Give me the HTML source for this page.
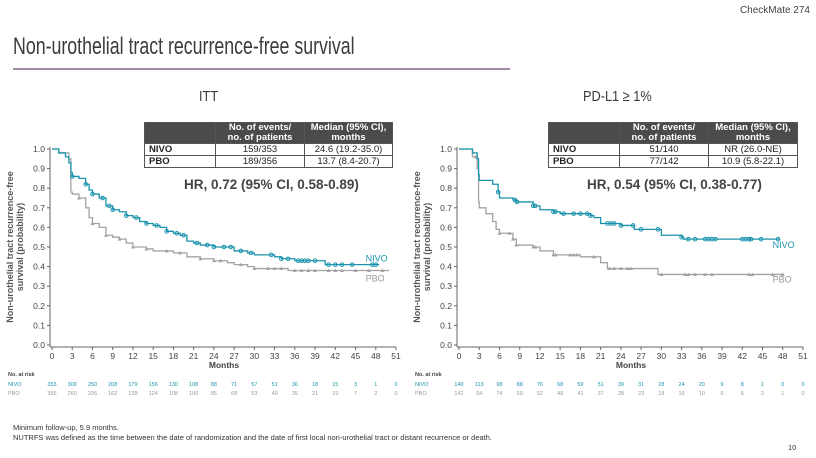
<!DOCTYPE html>
<html><head><meta charset="utf-8"><style>
body{margin:0;width:816px;height:458px;background:#fff;font-family:"Liberation Sans","DejaVu Sans",sans-serif;color:#3a3a3a;overflow:hidden;position:relative}
.abs{position:absolute}
table.t{position:absolute;border-collapse:collapse;font-size:9.5px;color:#222}
table.t td{border:1px solid #555;padding:0 4px;line-height:11px;height:11px}
table.t tr.h td{background:#4b4b4b;color:#fff;font-weight:bold;text-align:center;line-height:10px}
table.t td.c{text-align:center}
</style></head><body>
<div class="abs" style="right:6px;top:5px;font-size:10px;color:#444">CheckMate 274</div>
<div class="abs" style="left:13px;top:33px;font-size:24px;color:#3c3c3c;transform:scaleX(0.74);transform-origin:left top;white-space:nowrap">Non-urothelial tract recurrence-free survival</div>
<div class="abs" style="left:13px;top:68px;width:497px;height:2px;background:#a58aa8"></div>
<div class="abs" style="left:199px;top:88px;font-size:15px;transform:scaleX(0.85);transform-origin:left top">ITT</div>
<div class="abs" style="left:583px;top:88px;font-size:15px;transform:scaleX(0.85);transform-origin:left top;white-space:nowrap">PD-L1 ≥ 1%</div>

<table class="t" style="left:144px;top:122px;width:249px">
<tr class="h"><td style="width:62px"></td><td style="width:80px">No. of events/<br>no. of patients</td><td>Median (95% CI),<br>months</td></tr>
<tr><td><b>NIVO</b></td><td class="c">159/353</td><td class="c">24.6 (19.2-35.0)</td></tr>
<tr><td><b>PBO</b></td><td class="c">189/356</td><td class="c">13.7 (8.4-20.7)</td></tr></table>
<table class="t" style="left:548px;top:122px;width:250px">
<tr class="h"><td style="width:62px"></td><td style="width:80px">No. of events/<br>no. of patients</td><td>Median (95% CI),<br>months</td></tr>
<tr><td><b>NIVO</b></td><td class="c">51/140</td><td class="c">NR (26.0-NE)</td></tr>
<tr><td><b>PBO</b></td><td class="c">77/142</td><td class="c">10.9 (5.8-22.1)</td></tr></table>
<div class="abs" style="left:184px;top:177px;font-size:13.5px;font-weight:bold;color:#444">HR, 0.72 (95% CI, 0.58-0.89)</div>
<div class="abs" style="left:587px;top:177px;font-size:13.5px;font-weight:bold;color:#444">HR, 0.54 (95% CI, 0.38-0.77)</div>

<svg class="abs" id="svg" style="left:0;top:0" width="816" height="458"></svg>

<div class="abs" style="left:13px;top:423px;font-size:7.5px;color:#333">Minimum follow-up, 5.9 months.</div>
<div class="abs" style="left:13px;top:433px;font-size:7.5px;color:#333">NUTRFS was defined as the time between the date of randomization and the date of first local non-urothelial tract or distant recurrence or death.</div>
<div class="abs" style="left:788px;top:443px;font-size:7.5px;color:#333">10</div>

<script>
const xTicks=[0,3,6,9,12,15,18,21,24,27,30,33,36,39,42,45,48,51];
const yTicks=[0,0.1,0.2,0.3,0.4,0.5,0.6,0.7,0.8,0.9,1.0];
const ittNivoT=[0,1,2,2.5,2.8,3,4,5,5.5,6,7,8,9,10,11,12,13,14,15,16,17,18,19,20,21,22,24,27,29,30,33,34,36,40.5,48.5];
const ittNivoS=[1,0.98,0.96,0.93,0.88,0.86,0.85,0.82,0.79,0.77,0.75,0.71,0.69,0.68,0.66,0.65,0.63,0.62,0.61,0.60,0.58,0.57,0.56,0.53,0.52,0.51,0.50,0.48,0.47,0.46,0.45,0.44,0.43,0.41,0.41];
const ittPboT=[0,1,2.5,2.8,3,4,5,5.5,6,7,8,9,10,11,12,14,15,18,20,22,24,26,27,29,30,35,50];
const ittPboS=[1,0.98,0.95,0.78,0.77,0.75,0.70,0.65,0.62,0.60,0.56,0.55,0.54,0.52,0.50,0.49,0.48,0.47,0.45,0.44,0.43,0.42,0.41,0.40,0.39,0.38,0.38];
const ittNivoCens=[3,5,6,7.5,8.5,9,11,12.5,14,15.5,17,18.5,19.5,21.5,23,24,25.5,26.5,28,29.5,32.5,34,35,36.5,37,37.5,38,39,41,42,43,44.5,47.5,48];
const ittPboCens=[4,6,8,10,12,14,17,19,22,24,25,28,30,32,33,34,36,37,38,39,41,42,43,45,47,49];
const pdNivoT=[0,2,2.7,2.9,3,5,5.8,6,8,8.5,11,12,14,15,19.5,20,21,24,26,29,30,33,33.3,47.5];
const pdNivoS=[1,0.98,0.95,0.87,0.84,0.82,0.78,0.75,0.74,0.73,0.71,0.69,0.68,0.67,0.66,0.65,0.62,0.61,0.59,0.59,0.56,0.55,0.54,0.54];
const pdPboT=[0,2,2.7,2.9,3,4,5,5.5,6,8,8.5,11,12,14,18,21,22,29,29.5,48];
const pdPboS=[1,0.96,0.90,0.73,0.70,0.67,0.63,0.59,0.57,0.54,0.51,0.50,0.48,0.46,0.45,0.42,0.39,0.39,0.36,0.36];
const pdNivoCens=[5.8,8.3,8.6,11,11.3,14,14.3,15.5,17,18,19,19.5,22,22.5,23,24,25.8,27,29.5,33,34,35,36.5,37,37.5,38,42,42.5,43,43.3,44.8,47.3];
const pdPboCens=[2.5,6,7.5,8,8.5,11,11.3,14,14.3,16.5,17,17.5,20,22.3,23,24,25,25.5,30,33.5,34,35,36.5,37.5,43,43.5,46.5,48];
const ittRiskNivo=[353,300,250,208,179,156,130,108,88,71,57,51,36,18,15,3,1,0];
const ittRiskPbo=[356,260,206,162,138,124,108,100,85,68,53,49,35,21,19,7,2,0];
const pdRiskNivo=[140,113,98,88,76,68,59,51,39,31,28,24,20,9,8,1,0,0];
const pdRiskPbo=[142,94,74,59,52,48,41,37,28,23,18,16,10,6,6,2,1,0];

const NS='http://www.w3.org/2000/svg',svg=document.getElementById('svg');
const TEAL='#1a93ad',GREY='#a3a3a3';
function mk(tag,at,parent){const e=document.createElementNS(NS,tag);for(const k in at)e.setAttribute(k,at[k]);(parent||svg).appendChild(e);return e;}
function stepVal(T,S,t){let v=S[0];for(let i=0;i<T.length;i++){if(T[i]<=t)v=S[i];}return v;}
function chart(x0,nT,nS,pT,pS,nC,pC,rN,rP,lblY,pre){
  const X=m=>x0+m*344/51, Y=s=>345-s*196;
  const g=mk('g',{});
  
  
  const ya=mk('line',{x1:x0-2,y1:147,x2:x0-2,y2:347,stroke:'#666','stroke-width':1},g);
  
  
  const xa=mk('line',{x1:x0-2,y1:347,x2:X(51),y2:347,stroke:'#666','stroke-width':1},g);
  
  
  yTicks.forEach(v=>{mk('line',{x1:x0-5,y1:Y(v),x2:x0-2,y2:Y(v),stroke:'#666'},g);
    const t=mk('text',{x:x0-7,y:Y(v)+3,'font-size':8.5,'text-anchor':'end',fill:'#444'},g);t.textContent=v.toFixed(1);
    
    });
  xTicks.forEach((v,i)=>{mk('line',{x1:X(v),y1:347,x2:X(v),y2:350,stroke:'#666'},g);
    const t=mk('text',{x:X(v),y:359,'font-size':8.5,'text-anchor':'middle',fill:'#444'},g);t.textContent=v;
    
    
    const a=mk('text',{x:X(v),y:386,'font-size':5.5,'text-anchor':'middle',fill:TEAL},g);a.textContent=rN[i];
    
    
    const b=mk('text',{x:X(v),y:395,'font-size':5.5,'text-anchor':'middle',fill:'#999'},g);b.textContent=rP[i];
    
    });
  const xl=mk('text',{x:X(25.5),y:368,'font-size':8.5,'text-anchor':'middle',fill:'#444','font-weight':'bold'},g);xl.textContent='Months';
  
  
  const yl=mk('text',{transform:`translate(${x0-35},247) rotate(-90)`,'font-size':9,'text-anchor':'middle',fill:'#555','font-weight':'bold'},g);
  
  
  const s1=mk('tspan',{x:0,dy:-4},yl);s1.textContent='Non-urothelial tract recurrence-free';
  const s2=mk('tspan',{x:0,dy:10},yl);s2.textContent='survival (probability)';
  [['No. at risk',x0-44,376,'#444'],['NIVO',x0-44,386,TEAL],['PBO',x0-44,395,'#999']].forEach(r=>{const t=mk('text',{x:r[1],y:r[2],'font-size':5.5,fill:r[3],'font-weight':r[0]=='No. at risk'?'bold':'normal'},g);t.textContent=r[0];
    
    });
  function curve(T,S,C,col,name,mark){
    let d=`M${X(T[0])},${Y(S[0])}`;
    for(let i=1;i<T.length;i++){d+=`H${X(T[i])}V${Y(S[i])}`;}
    const p=mk('path',{d,fill:'none',stroke:col,'stroke-width':1.3},g);
    
    
    C.forEach(c=>{const cx=X(c),cy=Y(stepVal(T,S,c));let m;
      if(mark=='c')m=mk('circle',{cx,cy,r:1.8,fill:'none',stroke:col,'stroke-width':1},g);
      else m=mk('path',{d:`M${cx-2},${cy+1.5}L${cx},${cy-2}L${cx+2},${cy+1.5}Z`,fill:col},g);
      
      });
  }
  curve(pT,pS,pC,GREY,'pbo','t');
  curve(nT,nS,nC,TEAL,'nivo','c');
  const ln=mk('text',{x:X(46.5),y:Y(lblY[0]),'font-size':9,fill:TEAL},g);ln.textContent='NIVO';
  
  
  const lp=mk('text',{x:X(46.5),y:Y(lblY[1]),'font-size':9,fill:'#999'},g);lp.textContent='PBO';
  
  
}
chart(52,ittNivoT,ittNivoS,ittPboT,ittPboS,ittNivoCens,ittPboCens,ittRiskNivo,ittRiskPbo,[0.425,0.325],'itt');
chart(459,pdNivoT,pdNivoS,pdPboT,pdPboS,pdNivoCens,pdPboCens,pdRiskNivo,pdRiskPbo,[0.495,0.32],'pdl1');
</script>
</body></html>
